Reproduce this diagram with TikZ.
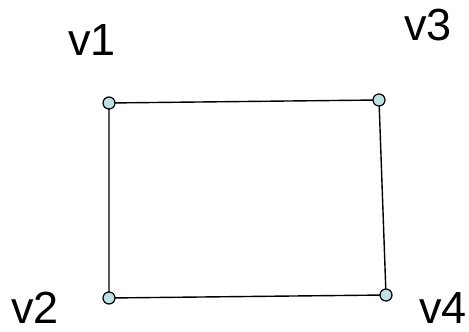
\documentclass[tikz,border=0pt]{standalone}
\usepackage{fontspec}
\setmainfont{Liberation Sans}
\begin{document}
\begin{tikzpicture}[x=1pt,y=1pt,
  vert/.style={circle,draw=black,fill={rgb,255:red,190;green,224;blue,226},line width=1.2pt,minimum size=12pt,inner sep=0pt},
  lab/.style={font=\fontsize{45}{45}\selectfont,inner sep=0pt},
  edge/.style={line width=1.4pt}]
\useasboundingbox (0,0) rectangle (469,332);
\coordinate (p1) at (109,229);
\coordinate (p3) at (379,232);
\coordinate (p2) at (109,34);
\coordinate (p4) at (386,37);
\draw[edge] (p1) -- (p3) -- (p4) -- (p2) -- cycle;
\node[vert] (n1) at (p1) {};
\node[vert] (n3) at (p3) {};
\node[vert] (n2) at (p2) {};
\node[vert] (n4) at (p4) {};
\node[lab] (l1) at (92,292) {v1};
\node[lab] (l3) at (428,307) {v3};
\node[lab] (l2) at (35,24) {v2};
\node[lab] (l4) at (443,24) {v4};
\end{tikzpicture}
\end{document}
